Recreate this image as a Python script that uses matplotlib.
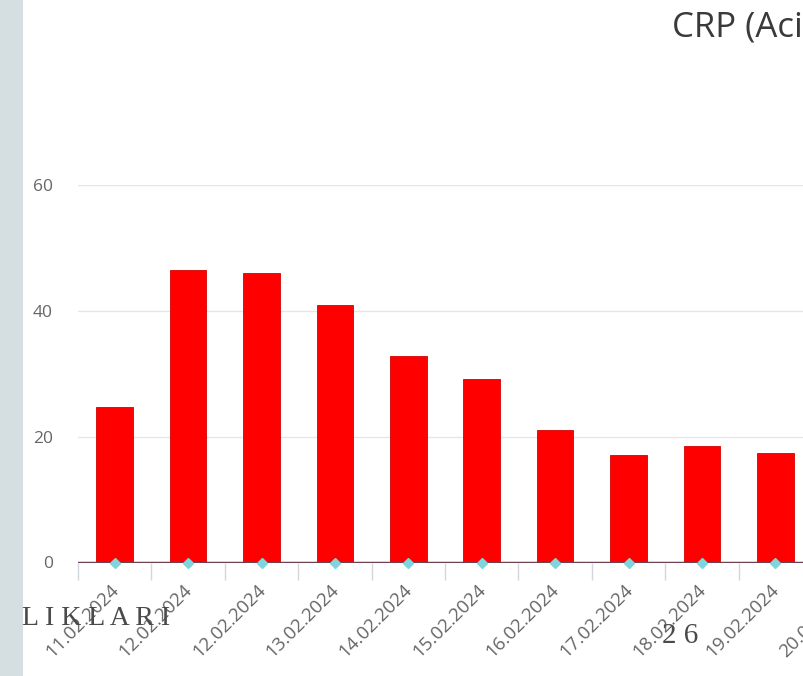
import numpy as np
import matplotlib
matplotlib.use("Agg")
import matplotlib.pyplot as plt
from matplotlib.patches import Rectangle
from matplotlib.transforms import ScaledTranslation

# data
dates = ["11.02.2024", "12.02.2024", "12.02.2024", "13.02.2024", "14.02.2024",
         "15.02.2024", "16.02.2024", "17.02.2024", "18.02.2024", "19.02.2024",
         "20.02.2024"]
crp = [24.7, 46.5, 46.0, 40.9, 32.9, 29.1, 21.1, 17.1, 18.5, 17.4]
zero_series = [0] * len(crp)
y_ticks = [0, 20, 40, 60]
title = "CRP (Aci"

W, H = 804, 676
fig = plt.figure(figsize=(W / 100, H / 100), dpi=100)
fig.patch.set_facecolor("white")

# left gray strip of the slide
fig.patches.append(Rectangle((0, 0), 23 / W, 1, transform=fig.transFigure,
                             facecolor="#d5dee0", edgecolor="none", zorder=0))

# plot area (continues past the right edge, like the cropped screenshot)
x0, y0, y60 = 78, 562.5, 185
cat_w = 73.4
ax = fig.add_axes([x0 / W, (H - y0) / H, cat_w * 11 / W, (y0 - y60) / H])
ax.set_xlim(-0.5, 10.5)
ax.set_ylim(0, 60)

x = np.arange(len(crp))
ax.bar(x, crp, width=0.5, color="#ff0000", edgecolor="#d40000", linewidth=0.6, zorder=3)
ax.axhline(0, color="#70404f", lw=2.5, zorder=4)
ax.plot(x, zero_series, ls="none", marker="D", ms=5.5, color="#80d4dc",
        mec="#80d4dc", zorder=5, clip_on=False)

for s in ax.spines.values():
    s.set_visible(False)

ax.set_yticks(y_ticks)
ax.yaxis.grid(True, color="#e6e6e6", lw=1)
ax.set_axisbelow(True)
ax.tick_params(axis="y", length=0, pad=18, labelsize=12.5, labelcolor="#666666")

ax.set_xticks(np.arange(len(dates)))
ax.set_xticklabels(dates, rotation=45, ha="right", rotation_mode="anchor",
                   fontsize=13.5, color="#666666")
ax.tick_params(axis="x", which="major", length=0, pad=13)
ax.set_xticks(np.arange(-0.5, len(dates), 1), minor=True)
ax.tick_params(axis="x", which="minor", length=12, width=1, color="#d3d6de")

shift = ScaledTranslation(-5 / 100, 0, fig.dpi_scale_trans)
for lab in ax.get_xticklabels():
    lab.set_transform(lab.get_transform() + shift)
for lab in ax.get_xticklabels() + ax.get_yticklabels():
    lab.set_fontfamily("Open Sans")

fig.text(672 / W, 1 - 37 / H, title, fontsize=25, color="#3a3a3a",
         family="Open Sans", ha="left", va="baseline")

# slide overlay text
fig.text(22 / W, 1 - 625 / H, "L I K L A R I", fontsize=20, color="#4a4a4a",
         family="Liberation Serif", ha="left", va="baseline")
fig.text(662 / W, 1 - 643 / H, "2 6", fontsize=21, color="#4a4a4a",
         family="Liberation Serif", ha="left", va="baseline")

fig.savefig("out.png", dpi=100)
